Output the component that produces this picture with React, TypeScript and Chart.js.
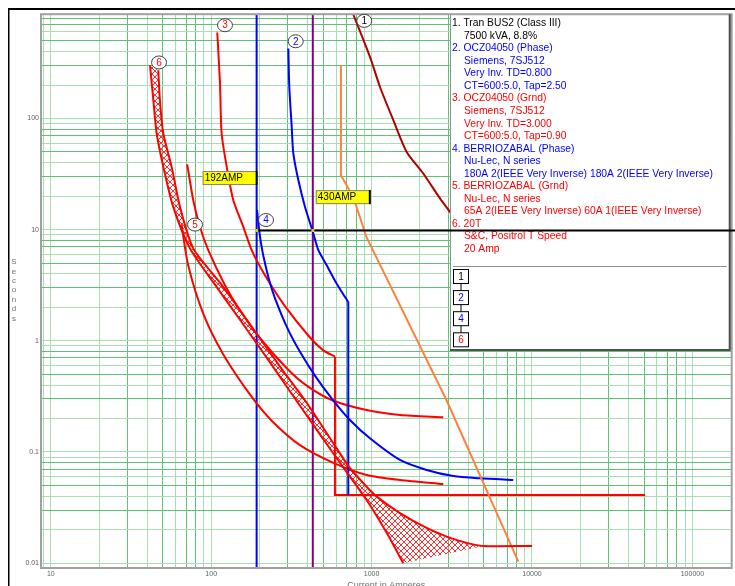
import React, { useEffect, useRef } from 'react';
import { Chart, registerables } from 'chart.js';

Chart.register(...registerables);

type Pt = [number, number]; // [amperes, seconds]

// Axis labels and grid
const currentTicks = [10, 100, 1000, 10000, 100000];
const secondTicks = [0.01, 0.1, 1, 10, 100];
const gridMultiples = [1, 2, 3, 4, 5, 6, 7, 8, 9];
const paleMultiples = [1, 2, 4, 6, 9];
const currentRange: Pt = [8.69, 175800];
const secondRange: Pt = [0.00903, 867];

// 1. Tran BUS2 damage curve
const tranBus2: Pt[] = [
  [760, 900], [977, 358], [1128, 192], [1366, 96.6], [1655, 50], [2100, 32],
  [2669, 19.1], [3083, 14.4], [3500, 11],
];

// 2. OCZ04050 phase relay, inverse part and instantaneous step
const oczPhase: Pt[] = [
  [302.6, 426], [306.9, 192], [317.7, 84], [325.1, 48.5], [349.3, 27.9], [384.6, 16.0],
  [433.2, 9.25], [465.6, 6.54], [520, 4.9], [600, 3.35], [680, 2.5], [715.7, 2.23],
];
const oczPhaseInst: Pt[] = [[715.7, 2.23], [715.7, 0.041]];

// 3. OCZ04050 ground relay, inverse part and instantaneous step
const oczGround: Pt[] = [
  [109.1, 593], [113.5, 206], [116.2, 73.3], [125, 36.7], [137.4, 18.4], [158.6, 10.6],
  [178.8, 6.54], [216.4, 3.89], [288.4, 2.05], [413, 1.07], [500, 0.82], [591, 0.72],
];
const oczGroundInst: Pt[] = [[591, 0.72], [591, 0.041], [50700, 0.041]];

// 4. BERRIOZABAL phase recloser
const recloserPhase: Pt[] = [
  [193, 15], [200, 9.4], [205, 7.4], [211.5, 5.8], [230, 3.5], [250, 2.41], [300, 1.28],
  [360, 0.784], [450, 0.471], [574.5, 0.293], [733, 0.194], [977, 0.1325], [1503, 0.0846],
  [2205, 0.0688], [3230, 0.0607], [4740, 0.0579], [7640, 0.0559],
];

// 5. BERRIOZABAL ground recloser, slow curve
const recloserGroundSlow: Pt[] = [
  [70.9, 38.6], [77.3, 18.4], [85.1, 10.6], [95.9, 6.54], [121.9, 3.16], [150, 1.91],
  [200, 1.07], [300, 0.555], [400, 0.389], [574.5, 0.29], [931, 0.238], [1503, 0.215],
  [2799, 0.205],
];

// 5. BERRIOZABAL ground recloser, fast curve
const recloserGroundFast: Pt[] = [
  [65.4, 11], [72, 4.73], [90, 1.7], [120, 0.738], [180, 0.309], [240, 0.189],
  [357.8, 0.115], [574.5, 0.08], [931, 0.062], [1503, 0.0559], [2799, 0.0514],
];

// 6. 20T fuse, minimum melt
const fuseMinMelt: Pt[] = [
  [41.55, 301], [43.6, 146], [45.7, 73.3], [50.3, 36.7], [58, 16], [73.7, 6.78],
  [105.6, 3.2], [150, 1.57], [250, 0.55], [357.8, 0.26], [574.5, 0.0977],
  [931, 0.0369], [1242, 0.0187], [1577, 0.00995],
];

// 6. 20T fuse, total clearing
const fuseTotalClear: Pt[] = [
  [46.8, 272], [47.9, 146], [50.3, 73.3], [56.7, 36.7], [63.9, 16], [77.3, 6.78],
  [114, 3.3], [163, 1.62], [272, 0.57], [392, 0.28], [600, 0.11], [715.7, 0.075],
  [931, 0.0486], [1076, 0.0396], [1503, 0.0282], [2205, 0.0207], [2938, 0.0173],
  [3914, 0.0152], [4970, 0.01425], [10000, 0.01425],
];
const fuseBandEnd = 4970;

// Unlabelled orange curve
const orangeCurve: Pt[] = [
  [644, 301], [644, 30.9], [770, 19.5], [931, 8.5], [2938, 0.29], [8220, 0.0103],
];

// Pickup markers
const pickup192: Pt[] = [[192, 0.001], [192, 10000]];
const pickup430: Pt[] = [[430, 0.001], [430, 10000]];
const markerTime = 10;

// Curve number tags: [amperes, seconds]
const curveTags: { id: string; color: string; at: Pt }[] = [
  { id: '1', color: '#000000', at: [900, 755] },
  { id: '2', color: '#0000ff', at: [336.4, 495] },
  { id: '3', color: '#ff0000', at: [121.9, 690] },
  { id: '4', color: '#0000ff', at: [219.6, 12.2] },
  { id: '5', color: '#ff0000', at: [79.3, 11.1] },
  { id: '6', color: '#ff0000', at: [47.3, 319] },
];

const ampTags: { text: string; amps: number; secs: number; side: 'left' | 'right' }[] = [
  { text: '192AMP', amps: 192, secs: 29.1, side: 'left' },
  { text: '430AMP', amps: 430, secs: 19.6, side: 'right' },
];

const legendEntries: { color: string; lines: string[] }[] = [
  { color: '#000000', lines: ['1. Tran BUS2 (Class III)', '7500 kVA, 8.8%'] },
  { color: '#0000ff', lines: ['2. OCZ04050 (Phase)', 'Siemens, 7SJ512', 'Very Inv. TD=0.800', 'CT=600:5.0, Tap=2.50'] },
  { color: '#ff0000', lines: ['3. OCZ04050 (Grnd)', 'Siemens, 7SJ512', 'Very Inv. TD=3.000', 'CT=600:5.0, Tap=0.90'] },
  { color: '#0000ff', lines: ['4. BERRIOZABAL (Phase)', 'Nu-Lec, N series', '180A 2(IEEE Very Inverse) 180A 2(IEEE Very Inverse)'] },
  { color: '#ff0000', lines: ['5. BERRIOZABAL (Grnd)', 'Nu-Lec, N series', '65A 2(IEEE Very Inverse) 60A 1(IEEE Very Inverse)'] },
  { color: '#ff0000', lines: ['6. 20T', 'S&C, Positrol T Speed', '20 Amp'] },
];
const stackBoxes: { id: string; color: string }[] = [
  { id: '1', color: '#000000' },
  { id: '2', color: '#0000ff' },
  { id: '4', color: '#0000ff' },
  { id: '6', color: '#ff0000' },
];

const yTitle = 'Seconds';
const xTitle = 'Current in Amperes';

const FONT = "'Liberation Sans', Arial, sans-serif";

function gridValues(lo: number, hi: number): number[] {
  const out: number[] = [];
  for (let e = Math.floor(Math.log10(lo)); e <= Math.ceil(Math.log10(hi)); e++) {
    for (const m of gridMultiples) {
      const v = Number((m * Math.pow(10, e)).toPrecision(6));
      if (v >= lo && v <= hi) out.push(v);
    }
  }
  return out;
}

function multipleOf(v: number): number {
  return Math.round(v / Math.pow(10, Math.floor(Math.log10(v) + 1e-9)));
}

function gridColor(v: number): string {
  return paleMultiples.includes(multipleOf(v)) ? '#a9ddb6' : '#5ec274';
}

function line(label: string, pts: Pt[], color: string, tension = 0) {
  return {
    label,
    data: pts.map(([x, y]) => ({ x, y })),
    borderColor: color,
    backgroundColor: color,
    borderWidth: 2,
    showLine: true,
    pointRadius: 0,
    tension,
    fill: false,
  };
}

function hatchPattern(ctx: CanvasRenderingContext2D): CanvasPattern | string {
  const c = document.createElement('canvas');
  c.width = 6;
  c.height = 6;
  const g = c.getContext('2d');
  if (!g) return '#ff0000';
  g.strokeStyle = '#ff3030';
  g.lineWidth = 1;
  g.beginPath();
  g.moveTo(0, 0);
  g.lineTo(6, 6);
  g.moveTo(6, 0);
  g.lineTo(0, 6);
  g.stroke();
  return ctx.createPattern(c, 'repeat') || '#ff0000';
}

const tccPlugin = {
  id: 'tccDecor',
  beforeDatasetsDraw(chart: any) {
    const { ctx, chartArea, scales } = chart;
    const xs = scales.x;
    const ys = scales.y;
    // hatched band between the fuse curves
    const band = [
      ...fuseTotalClear.filter((p) => p[0] <= fuseBandEnd),
      ...[...fuseMinMelt].reverse(),
    ];
    ctx.save();
    ctx.beginPath();
    ctx.rect(chartArea.left, chartArea.top, chartArea.right - chartArea.left, chartArea.bottom - chartArea.top);
    ctx.clip();
    ctx.beginPath();
    band.forEach(([a, s], i) => {
      const px = xs.getPixelForValue(a);
      const py = ys.getPixelForValue(s);
      if (i === 0) ctx.moveTo(px, py);
      else ctx.lineTo(px, py);
    });
    ctx.closePath();
    ctx.fillStyle = hatchPattern(ctx);
    ctx.fill();
    ctx.restore();
  },
  afterDraw(chart: any) {
    const { ctx, chartArea, scales, width } = chart;
    const xs = scales.x;
    const ys = scales.y;
    ctx.save();

    // outer frame lines
    ctx.strokeStyle = '#000000';
    ctx.lineWidth = 2;
    ctx.beginPath();
    ctx.moveTo(0, 1);
    ctx.lineTo(width, 1);
    ctx.moveTo(0.5, 0);
    ctx.lineTo(0.5, chart.height);
    ctx.stroke();

    // plot border
    ctx.strokeStyle = '#a0a0a0';
    ctx.lineWidth = 2;
    ctx.strokeRect(chartArea.left, chartArea.top, chartArea.right - chartArea.left, chartArea.bottom - chartArea.top);

    // vertical axis title, letters stacked
    ctx.fillStyle = '#707070';
    ctx.font = `8px ${FONT}`;
    ctx.textAlign = 'center';
    ctx.textBaseline = 'middle';
    yTitle.split('').forEach((ch, i) => ctx.fillText(ch, 6, 254 + i * 9.4));

    // horizontal axis title
    ctx.textBaseline = 'top';
    ctx.font = `9px ${FONT}`;
    ctx.fillText(xTitle, (chartArea.left + chartArea.right) / 2, 573);

    // curve number tags
    ctx.font = `10px ${FONT}`;
    curveTags.forEach((t) => {
      const px = xs.getPixelForValue(t.at[0]);
      const py = ys.getPixelForValue(t.at[1]);
      ctx.beginPath();
      ctx.ellipse(px, py, 7.5, 6.5, 0, 0, Math.PI * 2);
      ctx.fillStyle = '#ffffff';
      ctx.fill();
      ctx.strokeStyle = '#404040';
      ctx.lineWidth = 1;
      ctx.stroke();
      ctx.fillStyle = t.color;
      ctx.textAlign = 'center';
      ctx.textBaseline = 'middle';
      ctx.fillText(t.id, px, py + 0.5);
    });

    // pickup current tags
    ampTags.forEach((t) => {
      ctx.font = `10px ${FONT}`;
      const w = 55;
      const h = 14;
      const lx = xs.getPixelForValue(t.amps);
      const cy = ys.getPixelForValue(t.secs);
      const bx = t.side === 'left' ? lx - w + 1 : lx + 3;
      const by = cy - h / 2;
      ctx.fillStyle = '#ffff00';
      ctx.fillRect(bx, by, w, h);
      ctx.strokeStyle = '#808080';
      ctx.lineWidth = 1;
      ctx.strokeRect(bx + 0.5, by + 0.5, w - 1, h - 1);
      ctx.strokeStyle = '#000000';
      ctx.lineWidth = 2;
      ctx.beginPath();
      ctx.moveTo(bx + w - 1, by);
      ctx.lineTo(bx + w - 1, by + h);
      ctx.stroke();
      ctx.fillStyle = '#000000';
      ctx.textAlign = 'left';
      ctx.textBaseline = 'middle';
      ctx.fillText(t.text, bx + 2, cy + 0.5);
    });

    // legend panel
    const lx0 = 442;
    const ly0 = chartArea.top;
    const lx1 = chartArea.right - 1;
    const ly1 = 342;
    ctx.fillStyle = '#ffffff';
    ctx.fillRect(lx0, ly0, lx1 - lx0, ly1 - ly0);
    ctx.strokeStyle = '#909090';
    ctx.lineWidth = 1;
    ctx.strokeRect(lx0 + 0.5, ly0 + 0.5, lx1 - lx0 - 1, ly1 - ly0 - 1);
    ctx.strokeStyle = '#505050';
    ctx.lineWidth = 2;
    ctx.beginPath();
    ctx.moveTo(lx1 - 1, ly0);
    ctx.lineTo(lx1 - 1, ly1);
    ctx.lineTo(lx0, ly1);
    ctx.stroke();

    ctx.font = `10.3px ${FONT}`;
    ctx.textAlign = 'left';
    ctx.textBaseline = 'middle';
    let row = 0;
    legendEntries.forEach((e) => {
      e.lines.forEach((txt, i) => {
        ctx.fillStyle = e.color;
        ctx.fillText(txt, i === 0 ? lx0 + 2 : lx0 + 14, 15.3 + row * 12.55);
        row++;
      });
    });

    ctx.strokeStyle = '#909090';
    ctx.lineWidth = 1;
    ctx.beginPath();
    ctx.moveTo(lx0 + 3, 258.5);
    ctx.lineTo(lx1 - 4, 258.5);
    ctx.stroke();

    ctx.font = `10px ${FONT}`;
    stackBoxes.forEach((b, i) => {
      const bx = lx0 + 3.5;
      const by = 261.5 + i * 21.1;
      if (i > 0) {
        ctx.strokeStyle = '#000000';
        ctx.lineWidth = 1;
        ctx.beginPath();
        ctx.moveTo(bx + 7.5, by - 7);
        ctx.lineTo(bx + 7.5, by);
        ctx.stroke();
      }
      ctx.fillStyle = '#ffffff';
      ctx.fillRect(bx, by, 15, 14);
      ctx.strokeStyle = '#000000';
      ctx.lineWidth = 1;
      ctx.strokeRect(bx, by, 15, 14);
      ctx.fillStyle = b.color;
      ctx.textAlign = 'center';
      ctx.fillText(b.id, bx + 7.5, by + 7.5);
    });

    // marker line at the coordination time
    const ty = Math.round(ys.getPixelForValue(markerTime)) + 0.5;
    ctx.strokeStyle = '#000000';
    ctx.lineWidth = 2;
    ctx.beginPath();
    ctx.moveTo(xs.getPixelForValue(pickup192[0][0]), ty);
    ctx.lineTo(width, ty);
    ctx.stroke();
    ctx.fillStyle = '#e0d000';
    [pickup192[0][0], pickup430[0][0]].forEach((a) => {
      ctx.fillRect(xs.getPixelForValue(a) - 1.5, ty - 1.5, 3, 3);
    });

    ctx.restore();
  },
};

export default function App() {
  const ref = useRef<HTMLCanvasElement | null>(null);

  useEffect(() => {
    const canvas = ref.current;
    if (!canvas) return;
    const xGrid = gridValues(currentRange[0], currentRange[1]);
    const yGrid = gridValues(secondRange[0], secondRange[1]);
    const tickFont = { family: FONT, size: 7 };
    const smooth = 0.25;

    const chart = new Chart(canvas, {
      type: 'scatter',
      data: {
        datasets: [
          line('20T min melt', fuseMinMelt, '#ff0000', smooth),
          line('20T total clear', fuseTotalClear, '#ff0000', smooth),
          line('Orange', orangeCurve, '#ff8040'),
          line('OCZ04050 Phase', oczPhase, '#0000ff', smooth),
          line('OCZ04050 Phase inst', oczPhaseInst, '#0000ff'),
          line('BERRIOZABAL Phase', recloserPhase, '#0000ff', smooth),
          line('BERRIOZABAL Grnd fast', recloserGroundFast, '#ff0000', smooth),
          line('BERRIOZABAL Grnd slow', recloserGroundSlow, '#ff0000', smooth),
          line('OCZ04050 Grnd', oczGround, '#ff0000', smooth),
          line('OCZ04050 Grnd inst', oczGroundInst, '#ff0000'),
          line('Tran BUS2', tranBus2, '#b00000', smooth),
          line('192 A', pickup192, '#0000ff'),
          line('430 A', pickup430, '#800080'),
        ] as any,
      },
      options: {
        responsive: false,
        animation: false,
        events: [],
        layout: { padding: { top: 6, right: 3.3, left: 0, bottom: 0 } },
        plugins: { legend: { display: false }, tooltip: { enabled: false } },
        scales: {
          x: {
            type: 'logarithmic',
            min: currentRange[0],
            max: currentRange[1],
            bounds: 'data',
            afterBuildTicks: (s: any) => {
              s.ticks = xGrid.map((v) => ({ value: v }));
            },
            afterFit: (s: any) => {
              s.height = 18;
            },
            grid: {
              drawTicks: false,
              lineWidth: 1,
              color: (c: any) => gridColor(c.tick.value),
            },
            border: { display: false },
            ticks: {
              autoSkip: false,
              maxRotation: 0,
              padding: 2,
              color: '#606060',
              font: tickFont,
              callback: (v: any) => (currentTicks.includes(Number(v)) ? String(v) : ''),
            },
          },
          y: {
            type: 'logarithmic',
            min: secondRange[0],
            max: secondRange[1],
            bounds: 'data',
            afterBuildTicks: (s: any) => {
              s.ticks = yGrid.map((v) => ({ value: v }));
            },
            afterFit: (s: any) => {
              s.width = 33;
            },
            grid: {
              drawTicks: false,
              lineWidth: 1,
              color: (c: any) => gridColor(c.tick.value),
            },
            border: { display: false },
            ticks: {
              autoSkip: false,
              padding: 2,
              color: '#606060',
              font: tickFont,
              callback: (v: any) => (secondTicks.includes(Number(v)) ? String(v) : ''),
            },
          },
        },
      } as any,
      plugins: [tccPlugin],
    });
    return () => chart.destroy();
  }, []);

  return (
    <div style={{ position: 'fixed', left: 8, top: 8, width: 727, height: 578, overflow: 'hidden', background: '#ffffff' }}>
      <canvas ref={ref} width={727} height={578} style={{ display: 'block' }} />
    </div>
  );
}
